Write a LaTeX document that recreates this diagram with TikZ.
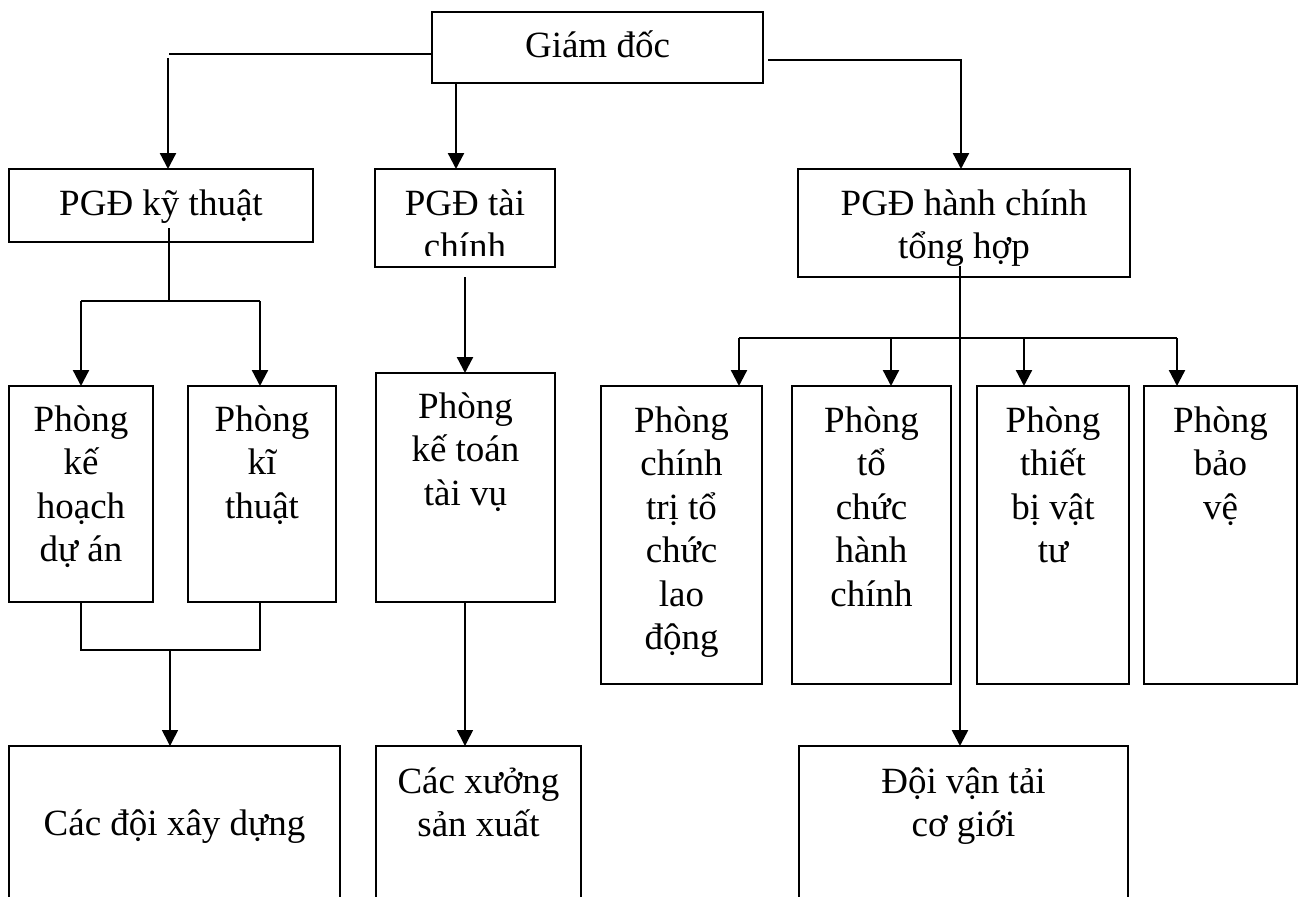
\documentclass[tikz,border=0pt]{standalone}
\usepackage{fontspec}
\setmainfont{Liberation Serif}
\usetikzlibrary{arrows.meta}
\newcommand\bx[4]{\parbox[c][#2pt][t]{#1pt}{\centering\rule{0pt}{#3pt}#4\par}}
\begin{document}
\begin{tikzpicture}[x=1pt,y=-1pt,
  box/.style={draw, line width=2pt, inner sep=0pt, outer sep=0pt, anchor=north west,
    font=\fontsize{37pt}{43.5pt}\selectfont},
  arr/.style={line width=2.3pt, -{Triangle[length=16pt,width=16pt]}},
  arrthin/.style={line width=1.6pt, -{Triangle[length=16pt,width=16pt]}},
  arrthick/.style={line width=2.6pt, -{Triangle[length=16pt,width=16pt]}},
  conn/.style={line width=1.5pt},
  conn2/.style={line width=2.2pt}]
\useasboundingbox (0,0) rectangle (1302,897);
\clip (0,0) rectangle (1302,897);

% boxes
\node[box] (gd) at (432,12) {\bx{331}{71}{45}{Giám đốc}};
\node[box] (pkt) at (9,169) {\bx{304}{73}{46}{PGĐ kỹ thuật}};
\begin{scope}
  \clip (360,150) rectangle (570,255);
  \node[box] (ptc) at (375,169) {\bx{180}{98}{46}{PGĐ tài\\chính}};
\end{scope}
\draw[line width=2pt] (ptc.north west) rectangle (ptc.south east);
\node[box] (phc) at (798,169) {\bx{332}{108}{46}{PGĐ hành chính\\tổng hợp}};

\node[box] (pkh) at (9,386) {\bx{144}{216}{45}{Phòng\\kế\\hoạch\\dự án}};
\node[box] (pkt2) at (188,386) {\bx{148}{216}{45}{Phòng\\kĩ\\thuật}};
\node[box] (pkto) at (376,373) {\bx{179}{229}{45}{Phòng\\kế toán\\tài vụ}};

\node[box] (pct) at (601,386) {\bx{161}{298}{46}{Phòng\\chính\\trị tổ\\chức\\lao\\động}};
\node[box] (ptc2) at (792,386) {\bx{159}{298}{46}{Phòng\\tổ\\chức\\hành\\chính}};
\node[box] (ptb) at (977,386) {\bx{152}{298}{46}{Phòng\\thiết\\bị vật\\tư}};
\node[box] (pbv) at (1144,386) {\bx{153}{298}{46}{Phòng\\bảo\\vệ}};

\node[box] (cdxd) at (9,746) {\bx{331}{170}{89}{Các đội xây dựng}};
\node[box] (cxsx) at (376,746) {\bx{205}{170}{47}{Các xưởng\\sản xuất}};
\node[box] (dvt) at (799,746) {\bx{329}{170}{47}{Đội vận tải\\cơ giới}};

% connectors from Giám đốc
\coordinate (k1) at (169,54);
\coordinate (k2) at (168,58);
\draw[conn] (gd.west |- k1) -- (k1);
\draw[arr] (k2) -- (k2 |- pkt.north);
\coordinate (k3) at (456,0);
\draw[arr] (gd.south -| k3) -- (ptc.north -| k3);
\coordinate (k4) at (961,60);
\draw[arr] ([xshift=5pt]gd.east |- k4) -- (k4) -- (k4 |- phc.north);

% PGĐ kỹ thuật branch
\coordinate (k5) at (169,228);
\coordinate (k6) at (169,301);
\coordinate (k7) at (81,301);
\coordinate (k8) at (260,301);
\draw[conn] (k5) -- (k6);
\draw[conn2] (k7) -- (k8);
\draw[arr] (k7) -- (k7 |- pkh.north);
\draw[arr] (k8) -- (k8 |- pkt2.north);
\coordinate (k10) at (81,650);
\coordinate (k11) at (260,650);
\coordinate (k12) at (170,650);
\draw[conn] (k10 |- pkh.south) -- (k10) -- (k11) -- (k11 |- pkt2.south);
\draw[arrthin] (k12) -- (k12 |- cdxd.north);

% PGĐ tài chính branch
\coordinate (k9) at (465,277);
\draw[arr] (k9) -- (k9 |- pkto.north);
\draw[arrthin] (pkto.south -| k9) -- (k9 |- cxsx.north);

% PGĐ hành chính branch
\coordinate (k13) at (960,266);
\draw[arrthick] (k13) -- (k13 |- dvt.north);
\coordinate (d1) at (739,338);
\coordinate (d2) at (891,338);
\coordinate (d3) at (1024,338);
\coordinate (d4) at (1177,338);
\draw[conn2] (d1) -- (d4);
\draw[arr] (d1) -- (d1 |- pct.north);
\draw[arr] (d2) -- (d2 |- ptc2.north);
\draw[arr] (d3) -- (d3 |- ptb.north);
\draw[arr] (d4) -- (d4 |- pbv.north);
\end{tikzpicture}
\end{document}
